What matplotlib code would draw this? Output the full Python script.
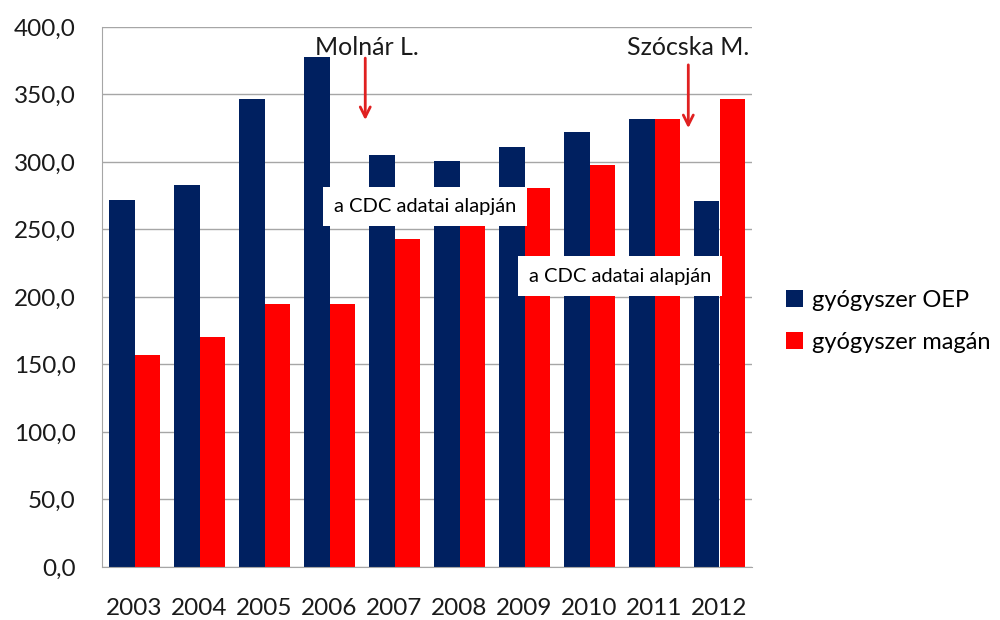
import numpy as np
from matplotlib import pyplot as plt
from matplotlib.ticker import FuncFormatter

years = ["2003", "2004", "2005", "2006", "2007", "2008", "2009", "2010", "2011", "2012"]
oep = [272, 283, 347, 378, 305, 301, 311, 322, 332, 271]
magan = [157, 170, 195, 195, 243, 265, 281, 298, 332, 347]
series_names = ["gyógyszer OEP", "gyógyszer magán"]
source_note = "a CDC adatai alapján"

plt.rcParams["font.family"] = ["Lato", "DejaVu Sans"]

fig = plt.figure(figsize=(10, 6.2), dpi=100)
ax = fig.add_axes([0.102, 0.0855, 0.65, 0.871])

x = np.arange(len(years))
w = 0.385
ax.bar(x - w / 2, oep, w, color="#002060", label=series_names[0], zorder=2)
ax.bar(x + w / 2, magan, w, color="#ff0000", label=series_names[1], zorder=2)

ax.set_xlim(-0.5, len(years) - 0.5)
ax.set_ylim(0, 400)
ax.set_yticks(np.arange(0, 401, 50))
ax.yaxis.set_major_formatter(FuncFormatter(lambda v, p: f"{v:.1f}".replace(".", ",")))
ax.set_xticks(x)
ax.set_xticklabels(years)
ax.tick_params(length=0, labelsize=17.5, colors="#1a1a1a")
ax.tick_params(axis="x", pad=22)
ax.tick_params(axis="y", pad=19)

ax.grid(axis="y", color="#a6a6a6", linewidth=1, zorder=0)
for s in ["top", "right"]:
    ax.spines[s].set_visible(False)
for s in ["left", "bottom"]:
    ax.spines[s].set_color("#a6a6a6")

# annotations
ax.text(3.58, 393, "Molnár L.", ha="center", va="top", fontsize=18, color="#1a1a1a", zorder=5)
ax.annotate("", xy=(3.55, 329), xytext=(3.55, 379),
            arrowprops=dict(arrowstyle="->", color="#e02020", lw=2, mutation_scale=18), zorder=5)
ax.text(8.52, 393, "Szócska M.", ha="center", va="top", fontsize=18, color="#1a1a1a", zorder=5)
ax.annotate("", xy=(8.52, 323), xytext=(8.52, 374),
            arrowprops=dict(arrowstyle="->", color="#e02020", lw=2, mutation_scale=18), zorder=5)

box = dict(facecolor="white", edgecolor="none", boxstyle="square,pad=0.55")
ax.text(4.47, 267, source_note, ha="center", va="center", fontsize=14.5, bbox=box, zorder=6)
ax.text(7.47, 215.5, source_note, ha="center", va="center", fontsize=14.5, bbox=box, zorder=6)

ax.legend(loc="center left", bbox_to_anchor=(1.02, 0.455), frameon=False, fontsize=17,
          handlelength=0.7, handleheight=0.7, handletextpad=0.4, labelspacing=0.9)

plt.savefig("out.png")
plt.close()
